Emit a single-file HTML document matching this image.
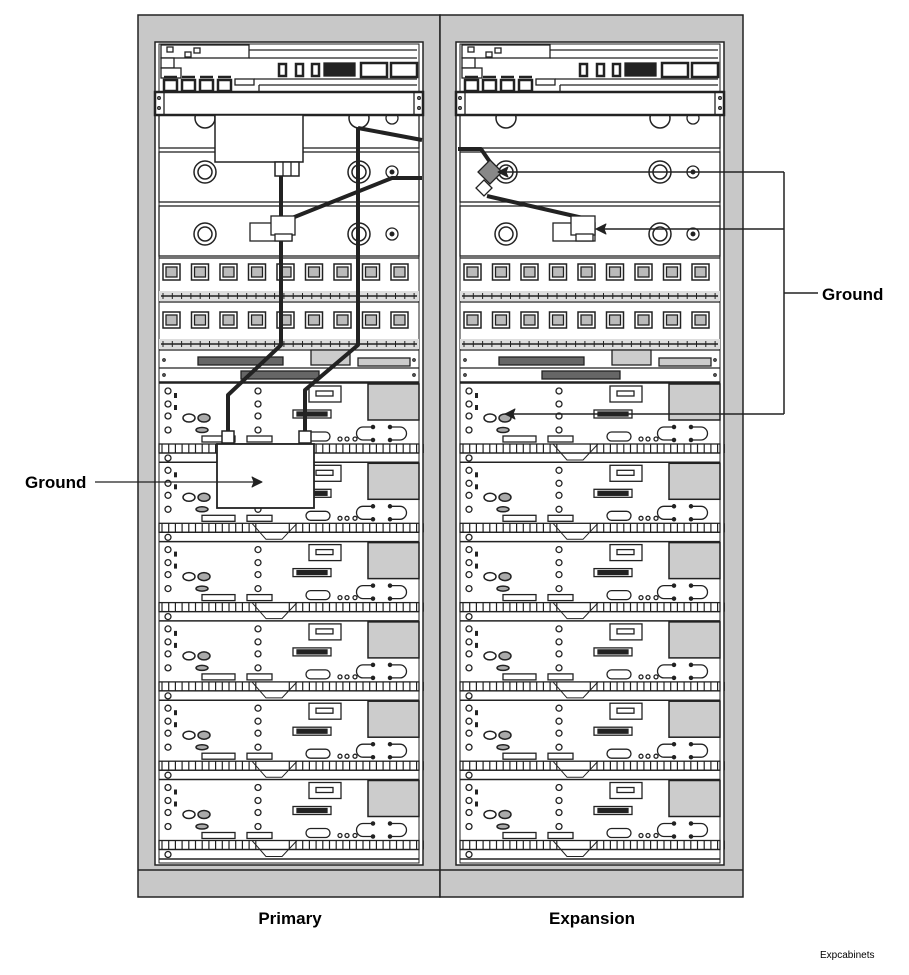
<!DOCTYPE html>
<html><head><meta charset="utf-8">
<style>
html,body{margin:0;padding:0;background:#fff;}
svg{display:block;}
text{font-family:"Liberation Sans",Arial,sans-serif;}
</style></head>
<body>
<svg id="s" width="909" height="975" viewBox="0 0 909 975" xmlns="http://www.w3.org/2000/svg">
<g id="g"></g>
<text x="25" y="488" font-size="17" font-weight="bold">Ground</text>
<text x="822" y="300" font-size="17" font-weight="bold">Ground</text>
<text x="290" y="924" font-size="17" font-weight="bold" text-anchor="middle">Primary</text>
<text x="592" y="924" font-size="17" font-weight="bold" text-anchor="middle">Expansion</text>
<text x="820" y="958" font-size="10">Expcabinets</text>
</svg>
<script>
var o='';
function R(x,y,w,h,f,sw){o+='<rect x="'+x+'" y="'+y+'" width="'+w+'" height="'+h+'" fill="'+(f||'#fff')+'" stroke="#222" stroke-width="'+(sw||1.3)+'"/>';}
function L(x1,y1,x2,y2,sw,c){o+='<line x1="'+x1+'" y1="'+y1+'" x2="'+x2+'" y2="'+y2+'" stroke="'+(c||'#222')+'" stroke-width="'+(sw||1.3)+'"/>';}
function C(x,y,r,f,sw){o+='<circle cx="'+x+'" cy="'+y+'" r="'+r+'" fill="'+(f||'#fff')+'" stroke="#222" stroke-width="'+(sw||1.3)+'"/>';}
function E(x,y,rx,ry,f){o+='<ellipse cx="'+x+'" cy="'+y+'" rx="'+rx+'" ry="'+ry+'" fill="'+(f||'#fff')+'" stroke="#222" stroke-width="1.5"/>';}
function P(d,sw,f){o+='<path d="'+d+'" fill="'+(f||'none')+'" stroke="#222" stroke-width="'+(sw||1.3)+'" stroke-linejoin="round"/>';}
function RR(x,y,w,h,r){o+='<rect x="'+x+'" y="'+y+'" width="'+w+'" height="'+h+'" rx="'+r+'" fill="#fff" stroke="#222" stroke-width="1.3"/>';}
R(138,15,302,882,'#c8c8c8',1.5);
R(440,15,303,882,'#c8c8c8',1.5);
L(138,870,743,870,1.5);
function cab(X){
 R(X,42,268,823,'#fff',1.5);
 R(X+4,44,260,819,'#fff',1);
 R(X+6,45,88,13);R(X+6,58,13,10);R(X+6,68,20,10);
 R(X+12,47,6,5);R(X+30,52,6,5);R(X+39,48,6,5);
 L(X+94,50,X+262,50);L(X+94,58,X+262,58);
 for(var i=0;i<4;i++){R(X+9+i*18,80,13,11,'#fff',2.5);L(X+9+i*18,77,X+22+i*18,77,2.5);}
 R(X+80,79,19,6);L(X+99,79,X+262,79);L(X+104,85,X+262,85);L(X+104,85,X+104,92);
 R(X+124,64,7,12,'#fff',2.5);R(X+141,64,7,12,'#fff',2.5);R(X+157,64,7,12,'#fff',2.5);
 R(X+169,63,31,13,'#222');R(X+206,63,26,14,'#fff',2.5);R(X+236,63,26,14,'#fff',2.5);
 R(X+4,115,260,33);R(X+4,152,260,50);R(X+4,206,260,50);
 var cx=[X+50,X+204];
 [118,172,234].forEach(function(cy,k){
   if(k==0){C(cx[0],cy,10,'#fff',1.5);C(cx[1],cy,10,'#fff',1.5);C(X+237,cy,6);}
   else{C(cx[0],cy,11,'#fff',1.5);C(cx[0],cy,7,'#fff',1.5);C(cx[1],cy,11,'#fff',1.5);C(cx[1],cy,7,'#fff',1.5);C(X+237,cy,6);C(X+237,cy,2,'#222',1);}
 });
 R(X,92,268,23,'#fff',2.5);L(X+9,92,X+9,115);L(X+259,92,X+259,115);
 C(X+4,98,1.3);C(X+4,108,1.3);C(X+264,98,1.3);C(X+264,108,1.3);
 [272,320].forEach(function(cy){
  for(var j=0;j<9;j++){var jx=X+8+j*28.5;R(jx,cy-8,17,16,'#fff',1.5);R(jx+3,cy-5,11,10,'#bbb',1.3);}
 });
 L(X+4,258,X+264,258);
 [296,344].forEach(function(ry){
  o+='<rect x="'+(X+4)+'" y="'+(ry-5)+'" width="260" height="10" fill="#ddd"/>';
  L(X+6,ry,X+262,ry,1.5);for(var t=0;t<28;t++){L(X+8+t*9.3,ry-3,X+8+t*9.3,ry+3,1);}
 });
 L(X+4,302,X+264,302);L(X+4,350,X+264,350);
 R(X+43,357,85,8,'#666');R(X+156,350,39,15,'#ccc');R(X+203,358,52,8,'#ccc');
 L(X+4,368,X+264,368);R(X+86,371,78,8,'#666');L(X+4,382,X+264,382,1.5);
 C(X+9,360,1.2);C(X+259,360,1.2);C(X+9,375,1.2);C(X+259,375,1.2);
 for(var s=0;s<6;s++){
  var y=383+s*79.3;
  L(X+4,y,X+264,y,1.5);
  [8,21,33,47].forEach(function(d){C(X+13,y+d,3);C(X+103,y+d,3);});
  o+='<rect x="'+(X+19)+'" y="'+(y+10)+'" width="3" height="5" fill="#222"/><rect x="'+(X+19)+'" y="'+(y+22)+'" width="3" height="5" fill="#222"/>';
  E(X+34,y+35,6,4);E(X+49,y+35,6,4,'#aaa');E(X+47,y+47,6,2.5,'#aaa');
  R(X+47,y+53,33,6);R(X+92,y+53,25,6);
  R(X+154,y+3,32,16);R(X+161,y+8,17,5);
  R(X+138,y+27,38,8);R(X+142,y+29,30,4,'#222');
  R(X+213,y+1,51,36,'#ccc',1.5);
  RR(X+151,y+49,24,9,4.5);
  C(X+185,y+56,2);C(X+192,y+56,2);C(X+200,y+56,2);
  P('M'+(X+218)+' '+(y+44)+' h-10 a6.5 6.5 0 0 0 0 13 h10',1.3);
  P('M'+(X+235)+' '+(y+44)+' h10 a6.5 6.5 0 0 1 0 13 h-10',1.3);
  C(X+218,y+44,1.6,'#222');C(X+218,y+57,1.6,'#222');C(X+235,y+44,1.6,'#222');C(X+235,y+57,1.6,'#222');
  R(X+4,y+61,260,9);
  for(var t=0;t<40;t++){var tx=X+7+t*6.7;if(tx>X+103&&tx<X+133)continue;L(tx,y+61,tx,y+70,1.2);}
  P('M'+(X+97)+' '+(y+61)+' L'+(X+111)+' '+(y+77)+' L'+(X+127)+' '+(y+77)+' L'+(X+142)+' '+(y+61),1);
  L(X+4,y+70,X+264,y+70);C(X+13,y+75,3);
 }
 L(X+4,859,X+264,859,1.5);
}
cab(155);cab(456);
R(215,115,88,47,'#fff',1.5);R(275,162,24,14,'#fff',1.5);L(283,162,283,176);L(291,162,291,176);
P('M281 176 V345 L228 395 V432',4);
P('M358 128 V345 L305 390 V432',4);
P('M358 128 L422 140',4);
P('M287 220 L392 178 L422 178',4);
R(250,223,42,18);R(271,216,24,19);R(275,234,17,7);
R(222,431,12,12,'#fff',1.5);R(299,431,12,12,'#fff',1.5);
R(217,444,97,64,'#fff',1.8);
L(95,482,255,482,1.3);P('M262 482 L252 477 L254 482 L252 487 Z',1,'#222');
P('M458 149 H481 L492 165',4);
P('M487 196 L583 218',4);
o+='<polygon points="490,160 502,172 490,184 478,172" fill="#888" stroke="#222" stroke-width="1.3"/>';
o+='<polygon points="484,180 492,188 484,196 476,188" fill="#fff" stroke="#222" stroke-width="1.3"/>';
R(553,223,42,18);R(571,216,24,19);R(576,234,17,7);
P('M784 172 V414',1.5);L(784,293,818,293,1.5);
L(784,172,505,172,1.5);P('M498 172 L508 167 L506 172 L508 177 Z',1,'#222');
L(784,229,600,229,1.5);P('M596 229 L606 224 L604 229 L606 234 Z',1,'#222');
L(784,414,512,414,1.5);P('M505 414 L515 409 L513 414 L515 419 Z',1,'#222');
document.getElementById('g').innerHTML=o;
</script>
</body></html>
